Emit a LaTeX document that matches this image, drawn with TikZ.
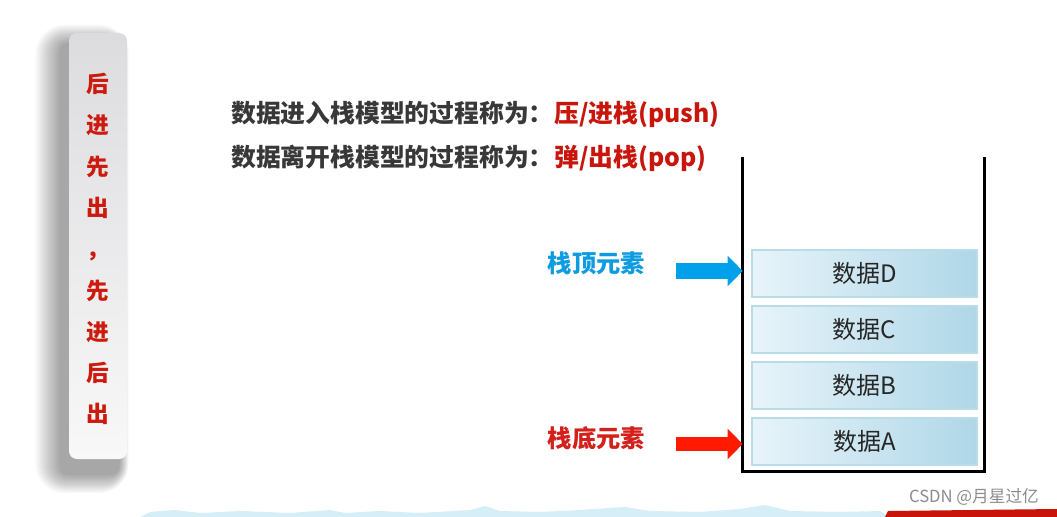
\documentclass[tikz,border=0pt]{standalone}
\usepackage{fontspec}
\setmainfont{Noto Sans CJK SC}
\usetikzlibrary{arrows.meta}
\definecolor{txtgray}{HTML}{383838}
\definecolor{titlered}{HTML}{C8160C}
\definecolor{sidered}{HTML}{CC1A0E}
\definecolor{lblblue}{HTML}{0D9BE2}
\definecolor{lblred}{HTML}{D4201A}
\definecolor{arrblue}{HTML}{00A0EA}
\definecolor{arrred}{HTML}{FF1A00}
\definecolor{boxlight}{HTML}{E8F4FA}
\definecolor{boxdark}{HTML}{AFD7E7}
\definecolor{boxline}{HTML}{B8DCEA}
\definecolor{sidetop}{HTML}{DCDCDF}
\definecolor{sidebot}{HTML}{F8F8F8}
\definecolor{wavecol}{HTML}{D6EEF8}
\definecolor{barred}{HTML}{C8140A}
\definecolor{wmgray}{HTML}{8C8C8C}
\begin{document}
\begin{tikzpicture}[x=0.75pt,y=-0.75pt,
  title/.style={font=\bfseries\fontsize{18.6pt}{22pt}\selectfont, inner sep=0pt, anchor=base west},
  sidechar/.style={font=\bfseries\fontsize{17pt}{20pt}\selectfont, text=sidered, inner sep=0pt},
  lbl/.style={font=\bfseries\fontsize{18.2pt}{22pt}\selectfont, inner sep=0pt},
  databox/.style={draw=boxline, line width=1.5pt, left color=boxlight, right color=boxdark,
    minimum width=168.75pt, minimum height=35.25pt, inner sep=0pt,
    font=\fontsize{18pt}{20pt}\selectfont, text=black!85},
  wall/.style={draw=black, line width=2pt, line join=miter},
  bluearr/.style={draw=arrblue, line width=12pt, -{Triangle[length=11.25pt,width=22pt]}},
  redarr/.style={draw=arrred, line width=11pt, -{Triangle[length=11.25pt,width=22pt]}},
  sidebar/.style={rounded corners=6pt, top color=sidetop, bottom color=sidebot,
    minimum width=43.5pt, minimum height=319.5pt, inner sep=0pt},
  shadowlayer/.style={fill=black, fill opacity=0.022},
  wm/.style={font=\fontsize{12.5pt}{14pt}\selectfont, text=wmgray, inner sep=0pt}
]
\useasboundingbox (0,0) rectangle (1057,517);
\fill[white] (0,0) rectangle (1057,517);

% bottom decoration
\fill[wavecol] (140,517) -- (150,512) -- (175,510) -- (200,513) -- (240,511) -- (290,513)
  -- (330,510) -- (345,513) -- (380,511) -- (420,513) -- (470,510) -- (485,506) -- (500,511)
  -- (540,512) -- (580,510) -- (625,507) -- (650,511) -- (700,512) -- (740,509) -- (765,505)
  -- (790,511) -- (840,512) -- (880,511) -- (890,517) -- cycle;
\fill[barred] (888,511) -- (1057,509) -- (1057,517) -- (885,517) -- cycle;

% sidebar shadow (soft, offset left and down)
\foreach \i in {1,...,16}
  \fill[shadowlayer, rounded corners=6+\i] (61-\i*1.6,44-\i*1.2) rectangle (119+\i*0.6,474+\i*1.2);

% sidebar
\node[sidebar] (side) at (98,246) {};
\foreach \ch/\yy [count=\i] in {后/84,进/125,先/167,出/208,，/250,先/291,进/332,后/373,出/414}
  \node[sidechar] (s\i) at (97.5,\yy) {\vphantom{出}\ch};

% title lines
\node[title, text=txtgray] (t1a) at (231,122.5) {数据进入栈模型的过程称为：};
\node[title, text=titlered] (t1b) at (t1a.base east) {压/进栈(push)};
\node[title, text=txtgray] (t2a) at (231,166.5) {数据离开栈模型的过程称为：};
\node[title, text=titlered] (t2b) at (t2a.base east) {弹/出栈(pop)};

% stack container
\node[minimum width=180.75pt, minimum height=235.5pt, inner sep=0pt] (stack) at (863.5,314) {};
\draw[wall] (stack.north west) -- (stack.south west) -- (stack.south east) -- (stack.north east);

% data boxes
\node[databox] (bD) at (864.5,273.5) {数据D};
\node[databox] (bC) at (864.5,329.5) {数据C};
\node[databox] (bB) at (864.5,385.5) {数据B};
\node[databox] (bA) at (864.5,441.5) {数据A};

% labels and arrows
\node[lbl, text=lblblue] (top) at (596.5,263) {栈顶元素};
\node[lbl, text=lblred] (bottom) at (596.5,438) {栈底元素};
\coordinate (ptop) at (676,271);
\coordinate (pbot) at (676,444);
\draw[bluearr] (ptop) -- (ptop -| stack.west);
\draw[redarr] (pbot) -- (pbot -| stack.west);

% watermark
\node[wm] (mark) at (974,497) {CSDN @月星过亿};
\end{tikzpicture}
\end{document}
